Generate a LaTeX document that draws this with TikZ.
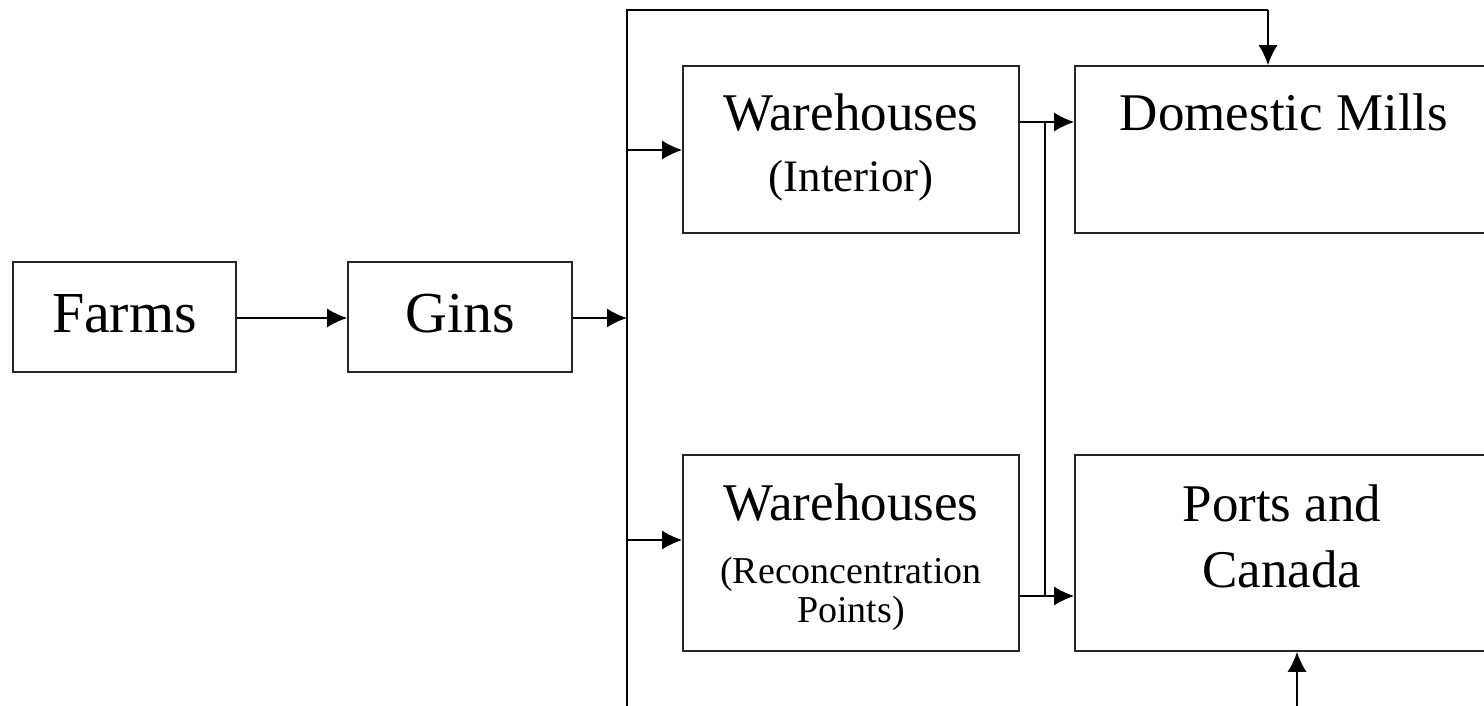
\documentclass[tikz,border=0pt]{standalone}
\usepackage{fontspec}
\setmainfont{Liberation Serif}
\usetikzlibrary{arrows.meta}
\begin{document}
\begin{tikzpicture}[x=1pt,y=1pt,
  box/.style={draw=black!85,line width=1.7pt,inner sep=0pt,minimum width=#1},
  conn/.style={line width=1.7pt,-{Latex[length=20pt,width=19pt]}},
  plain/.style={line width=1.7pt},
  big/.style={inner sep=0pt,anchor=base,font=\fontsize{58}{62}\selectfont},
  mid/.style={inner sep=0pt,anchor=base,font=\fontsize{53}{57}\selectfont},
  subA/.style={inner sep=0pt,anchor=base,font=\fontsize{45}{49}\selectfont},
  subB/.style={inner sep=0pt,anchor=base,font=\fontsize{38}{41}\selectfont}]
\useasboundingbox (0,0) rectangle (1484,-706);
\fill[white] (0,0) rectangle (1484,-706);
% boxes
\node[box=223pt,minimum height=110pt] (farms) at (124.5,-317) {};
\node[box=224pt,minimum height=110pt] (gins) at (460,-317) {};
\node[box=336pt,minimum height=167pt] (w1) at (851,-149.5) {};
\node[box=336pt,minimum height=196pt] (w2) at (851,-553) {};
\node[box=418pt,minimum height=167pt] (dm) at (1284,-149.5) {};
\node[box=418pt,minimum height=196pt] (pc) at (1284,-553) {};
% texts
\node[big] (tfarms) at (124.5,-332) {Farms};
\node[big] (tgins) at (460,-332) {Gins};
\node[mid] (tw1a) at (851,-131) {Warehouses};
\node[subA] (tw1b) at (851,-192) {(Interior)};
\node[mid] (tw2a) at (851,-520) {Warehouses};
\node[subB] (tw2b) at (851,-583) {(Reconcentration};
\node[subB] (tw2c) at (851,-622) {Points)};
\node[mid] (tdm) at (1284,-131) {Domestic Mills};
\node[mid] (tpc1) at (1282,-521) {Ports and};
\node[mid] (tpc2) at (1282,-587) {Canada};
% coordinates
\coordinate (busTop) at (627,-10);
\coordinate (busBot) at (627,-706);
\coordinate (busG) at (627,-318);
\coordinate (bus1) at (627,-150);
\coordinate (bus2) at (627,-540);
\coordinate (topR) at (1268,-10);
\coordinate (j1) at (1045,-122);
\coordinate (j2) at (1045,-596);
\coordinate (botIn) at (1297,-706);
% connectors
\draw[conn] (farms.east |- busG) -- (gins.west |- busG);
\draw[conn] (gins.east |- busG) -- (busG);
\draw[plain] (busBot) -- (busTop) -- (topR);
\draw[conn] (topR) -- (topR |- dm.north);
\draw[conn] (bus1) -- (w1.west |- bus1);
\draw[conn] (bus2) -- (w2.west |- bus2);
\draw[conn] (w1.east |- j1) -- (dm.west |- j1);
\draw[conn] (w2.east |- j2) -- (pc.west |- j2);
\draw[plain] (j1) -- (j2);
\draw[conn] (botIn) -- (botIn |- pc.south);
\end{tikzpicture}
\end{document}
